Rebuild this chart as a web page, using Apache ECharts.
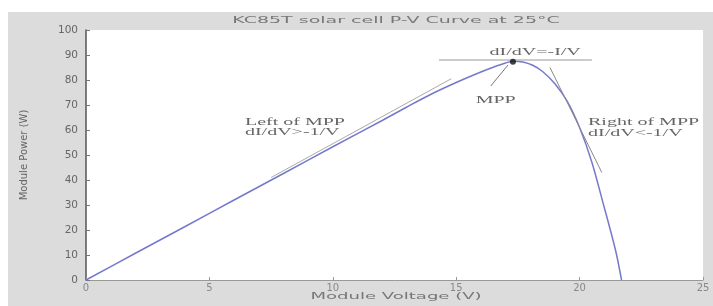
<!DOCTYPE html>
<html>
<head>
<meta charset="utf-8">
<title>P-V Curve</title>
<script src="https://cdn.jsdelivr.net/npm/echarts@6/dist/echarts.min.js"></script>
<style>
html, body { margin: 0; padding: 0; background: #fff; }
#main { width: 713px; height: 306px; }
</style>
</head>
<body>
<div id="main"></div>
<script>
// P-V curve (V, W)
var voltage = [0, 2, 4, 6, 8, 10, 12, 13, 14, 15, 16, 16.5, 17, 17.3, 17.7, 18.1, 18.5, 19, 19.5, 20, 20.5, 21, 21.3, 21.5, 21.7];
var power   = [0, 10.7, 21.3, 32, 42.6, 53.3, 63.8, 69.2, 74.4, 79, 83.2, 85.1, 86.8, 87.5, 87.2, 85.9, 83.4, 78.5, 71.5, 61, 47, 29, 18, 10, 0];

// tangent lines
var flatLine  = [[14.3, 88], [20.5, 88]];
var leftLine  = [[7.5, 41], [14.8, 80.5]];
var rightLine = [[18.8, 85], [20.9, 43]];
var mppArrow  = [[16.4, 77.6], [17.1, 86]];
var mppPoint  = [17.3, 87.3];

// annotations [V, W, text, align]
var notes = [
  [6.44, 63.2, 'Left of MPP', 'left'],
  [6.44, 59.2, 'dI/dV>-1/V', 'left'],
  [20.34, 63.2, 'Right of MPP', 'left'],
  [20.34, 58.8, 'dI/dV<-1/V', 'left'],
  [16.6, 72, 'MPP', 'center'],
  [18.2, 91.2, 'dI/dV=-I/V', 'center']
];

var titleText = 'KC85T solar cell P-V Curve at 25°C';
var xName = 'Module Voltage (V)';

var curve = voltage.map(function (v, i) { return [v, power[i]]; });

var chart = echarts.init(document.getElementById('main'));

function seg(data, color, w) {
  return {
    type: 'line', data: data, showSymbol: false, silent: true,
    lineStyle: { color: color, width: w }, z: 3
  };
}

var bg = {
  id: 'bg', type: 'rect', z: -10,
  shape: { x: 8, y: 12, width: 705, height: 294 },
  style: { fill: '#dcdcdc' }
};

var option = {
  animation: false,
  graphic: [bg],
  grid: {
    left: 86, top: 30, right: 10, bottom: 26,
    show: true, backgroundColor: '#fff', borderWidth: 0
  },
  xAxis: {
    type: 'value', min: 0, max: 25, interval: 5,
    axisLine: { lineStyle: { color: '#999', width: 1 } },
    axisTick: { inside: true, length: 3, lineStyle: { color: '#999' } },
    axisLabel: { fontFamily: 'DejaVu Sans', fontSize: 10, color: '#888', margin: 3 },
    splitLine: { show: false }
  },
  yAxis: {
    type: 'value', min: 0, max: 100, interval: 10,
    name: 'Module Power (W)', nameLocation: 'middle', nameGap: 57,
    nameTextStyle: { fontFamily: 'DejaVu Sans', fontSize: 10, color: '#666' },
    axisLine: { lineStyle: { color: '#555', width: 1.5 } },
    axisTick: { inside: true, length: 4, lineStyle: { color: '#777' } },
    axisLabel: { fontFamily: 'DejaVu Sans', fontSize: 10.5, color: '#666', margin: 8 },
    splitLine: { show: false }
  },
  series: [
    (function () { var s = seg(curve, '#7479cc', 1.5); s.smooth = 0.3; return s; })(),
    seg(flatLine, '#999', 1),
    seg(leftLine, '#aaa', 1),
    seg(rightLine, '#888', 1),
    seg(mppArrow, '#777', 1),
    {
      type: 'scatter', data: [mppPoint], symbolSize: 6, silent: true,
      itemStyle: { color: '#111' }, z: 5
    }
  ]
};
chart.setOption(option);

// stretched texts (the source picture is widened horizontally)
function stretched(x, y, text, font, fill, align, sx) {
  return {
    type: 'text', x: x, y: y, scaleX: sx, z: 20, silent: true,
    style: {
      text: text, font: font, fill: fill,
      textAlign: align, align: align,
      textVerticalAlign: 'middle', verticalAlign: 'middle'
    }
  };
}

var extra = [bg];
extra.push(stretched(396, 21, titleText, '9.5px "DejaVu Sans"', '#777', 'center', 2.0));
extra.push(stretched(396, 297, xName, '9.5px "DejaVu Sans"', '#777', 'center', 1.9));
notes.forEach(function (n) {
  var p = chart.convertToPixel({ gridIndex: 0 }, [n[0], n[1]]);
  extra.push(stretched(p[0], p[1], n[2], '10px "Liberation Serif"', '#666', n[3], 2.0));
});
chart.setOption({ graphic: extra });
</script>
</body>
</html>
